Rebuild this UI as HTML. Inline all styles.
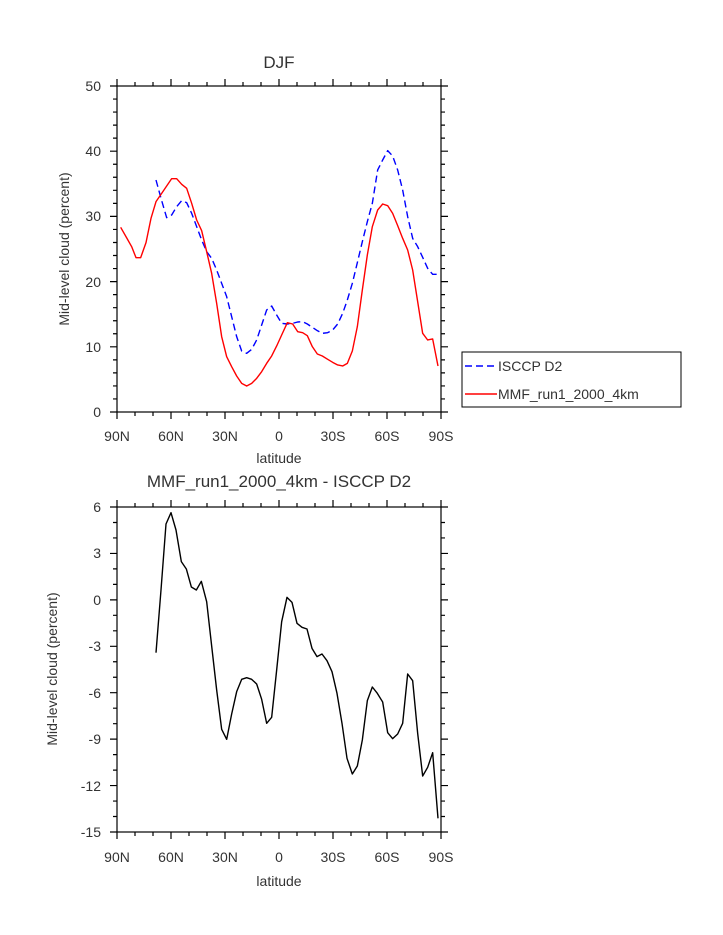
<!DOCTYPE html>
<html><head><meta charset="utf-8"><style>
body{margin:0;background:#fff}
svg{display:block}
text{font-family:"Liberation Sans",sans-serif;fill:#333}
</style></head><body>
<svg width="723" height="935" viewBox="0 0 723 935" xmlns="http://www.w3.org/2000/svg">
<defs>
<g id="xt">
<path d="M117,0v7M135,0v4M153,0v4M171,0v7M189,0v4M207,0v4M225,0v7M243,0v4M261,0v4M279,0v7M297,0v4M315,0v4M333,0v7M351,0v4M369,0v4M387,0v7M405,0v4M423,0v4M441,0v7"/>
</g>
<g id="yt1">
<path d="M0,86h7M0,99.04h4M0,112.08h4M0,125.12h4M0,138.16h4M0,151.2h7M0,164.24h4M0,177.28h4M0,190.32h4M0,203.36h4M0,216.4h7M0,229.44h4M0,242.48h4M0,255.52h4M0,268.56h4M0,281.6h7M0,294.64h4M0,307.68h4M0,320.72h4M0,333.76h4M0,346.8h7M0,359.84h4M0,372.88h4M0,385.92h4M0,398.96h4M0,412h7"/>
</g>
<g id="yt2">
<path d="M0,507h7M0,522.48h4M0,537.95h4M0,553.43h7M0,568.9h4M0,584.38h4M0,599.86h7M0,615.33h4M0,630.81h4M0,646.29h7M0,661.76h4M0,677.24h4M0,692.71h7M0,708.19h4M0,723.67h4M0,739.14h7M0,754.62h4M0,770.1h4M0,785.57h7M0,801.05h4M0,816.52h4M0,832h7"/>
</g>
</defs>
<g stroke="#000" stroke-width="1.2" fill="none">
<rect x="117" y="86" width="324" height="326"/>
<rect x="117" y="507" width="324" height="325"/>
<use href="#xt" transform="translate(0,412)"/>
<use href="#xt" transform="translate(0,86) scale(1,-1)"/>
<use href="#xt" transform="translate(0,832)"/>
<use href="#xt" transform="translate(0,507) scale(1,-1)"/>
<use href="#yt1" transform="translate(441,0)"/>
<use href="#yt1" transform="translate(117,0) scale(-1,1)"/>
<use href="#yt2" transform="translate(441,0)"/>
<use href="#yt2" transform="translate(117,0) scale(-1,1)"/>
</g>
<g font-size="14" text-anchor="middle">
<text x="279" y="68" font-size="17">DJF</text>
<text x="279" y="487" font-size="17">MMF_run1_2000_4km - ISCCP D2</text>
<text x="117" y="441">90N</text><text x="171" y="441">60N</text><text x="225" y="441">30N</text><text x="279" y="441">0</text><text x="333" y="441">30S</text><text x="387" y="441">60S</text><text x="441" y="441">90S</text>
<text x="279" y="463">latitude</text>
<text x="117" y="862">90N</text><text x="171" y="862">60N</text><text x="225" y="862">30N</text><text x="279" y="862">0</text><text x="333" y="862">30S</text><text x="387" y="862">60S</text><text x="441" y="862">90S</text>
<text x="279" y="886">latitude</text>
<text transform="translate(69,249) rotate(-90)">Mid-level cloud (percent)</text>
<text transform="translate(57,669) rotate(-90)">Mid-level cloud (percent)</text>
</g>
<g font-size="14" text-anchor="end">
<text x="101" y="91">50</text><text x="101" y="156">40</text><text x="101" y="221">30</text><text x="101" y="287">20</text><text x="101" y="352">10</text><text x="101" y="417">0</text>
<text x="101" y="512">6</text><text x="101" y="558">3</text><text x="101" y="605">0</text><text x="101" y="651">-3</text><text x="101" y="698">-6</text><text x="101" y="744">-9</text><text x="101" y="791">-12</text><text x="101" y="837">-15</text>
</g>
<g transform="translate(100,70) scale(0.33333)" fill="none" stroke-linejoin="round">
<polyline vector-effect="non-scaling-stroke" stroke="#00f" stroke-width="1.4" stroke-dasharray="7,4" points="168,330 183,385 200,443 215,435 230,410 245,392 260,398 275,430 290,470 305,510 320,545 335,565 350,600 365,640 380,680 395,740 410,800 425,843 440,850 455,838 470,810 485,765 500,720 515,708 530,735 545,760 562,762 578,760 593,756 608,755 622,762 637,772 652,782 667,790 683,788 698,780 713,762 728,730 742,690 757,640 772,578 787,515 802,455 817,400 833,300 848,270 863,242 878,258 893,300 908,360 923,440 938,505 953,530 968,562 983,595 998,613 1014,613"/>
<polyline vector-effect="non-scaling-stroke" stroke="#f00" stroke-width="1.4" points="62,472 95,530 108,563 122,563 138,518 153,445 168,395 185,370 200,348 215,326 230,326 245,343 260,355 275,400 290,450 305,482 320,545 335,610 350,700 365,800 380,860 395,890 410,918 425,940 440,948 455,940 470,925 485,905 500,880 515,858 530,828 545,795 562,758 578,762 593,785 608,788 622,797 637,830 652,852 667,858 683,868 698,877 713,885 728,888 742,880 757,843 772,770 787,660 802,555 817,470 833,420 848,402 863,407 878,430 893,467 908,505 923,540 938,600 953,695 968,790 983,810 998,807 1014,888"/>
</g>
<g transform="translate(100,490) scale(0.33333)" fill="none" stroke-linejoin="round">
<polyline vector-effect="non-scaling-stroke" stroke="#000" stroke-width="1.4" points="168,488 183,300 198,102 213,68 228,120 244,215 259,237 274,291 289,300 304,274 320,335 335,468 350,600 365,718 380,748 395,672 410,605 425,568 440,563 455,568 470,582 485,628 500,700 515,682 530,540 545,395 561,322 576,337 591,400 606,412 621,417 636,475 651,500 666,492 681,512 696,545 711,610 726,700 741,805 757,852 772,828 787,750 802,632 817,591 832,610 848,636 863,728 878,746 893,732 908,700 923,552 938,572 953,730 968,858 983,832 998,788 1014,985"/>
</g>
<rect x="462" y="352" width="219" height="55" fill="none" stroke="#000" stroke-width="1"/>
<line x1="465" y1="366" x2="497" y2="366" stroke="#00f" stroke-width="1.4" stroke-dasharray="7,4"/>
<line x1="465" y1="394" x2="497" y2="394" stroke="#f00" stroke-width="1.4"/>
<text x="498" y="371" font-size="14">ISCCP D2</text>
<text x="498" y="399" font-size="14">MMF_run1_2000_4km</text>
</svg>
</body></html>
